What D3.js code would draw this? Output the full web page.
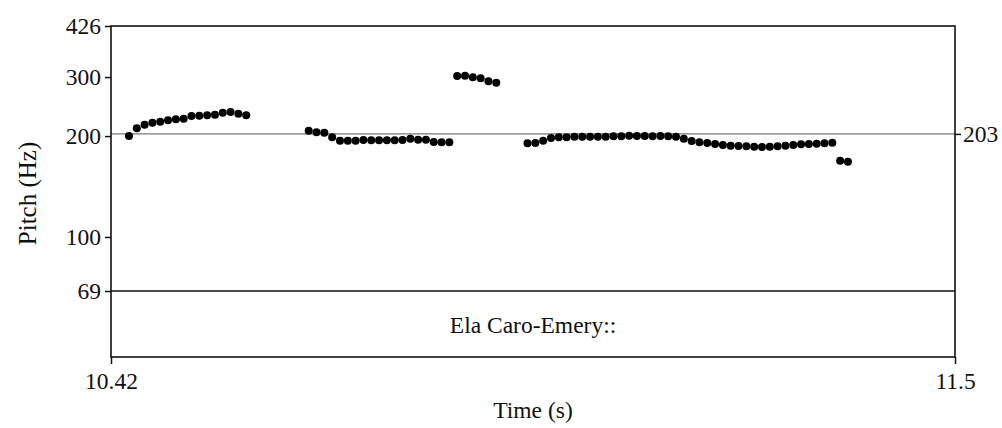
<!DOCTYPE html>
<html>
<head>
<meta charset="utf-8">
<script src="https://cdn.jsdelivr.net/npm/d3@7"></script>
<style>
  html, body { margin: 0; padding: 0; background: #fff; }
  svg { display: block; }
  text { font-family: "Liberation Serif", "Times New Roman", serif; fill: #111; }
</style>
</head>
<body>
<svg id="chart" width="1002" height="428"></svg>
<script>
// ---- data ----
const times = [
  10.443, 10.453, 10.463, 10.473, 10.483, 10.493, 10.503, 10.513, 10.523, 10.533, 10.543, 10.553, 10.563, 10.573, 10.583, 10.593,
  10.673, 10.683, 10.693, 10.703, 10.713, 10.723, 10.733, 10.743, 10.753, 10.763, 10.773, 10.783, 10.793, 10.803, 10.813, 10.823, 10.833, 10.843, 10.853,
  10.863, 10.873, 10.883, 10.893, 10.903, 10.913,
  10.953, 10.963, 10.973, 10.983, 10.993, 11.003, 11.013, 11.023, 11.033, 11.043,
  11.053, 11.063, 11.073, 11.083, 11.093, 11.103, 11.113, 11.123, 11.133, 11.143,
  11.153, 11.163, 11.173, 11.183, 11.193, 11.203, 11.213, 11.223, 11.233, 11.243,
  11.253, 11.263, 11.273, 11.283, 11.293, 11.303, 11.313, 11.323, 11.333, 11.343,
  11.353, 11.363
];
const pitchHz = [
  200.1, 211.0, 216.3, 219.3, 220.8, 222.9, 224.5, 225.4, 229.6, 230.0, 230.7, 231.6, 234.9, 236.0, 233.3, 230.7,
  207.5, 205.3, 204.7, 198.3, 193.8, 193.8, 193.8, 194.7, 194.3, 194.3, 194.3, 194.3, 194.7, 196.5, 195.1, 195.1, 192.0, 191.7, 191.7,
  302.2, 302.8, 299.5, 297.5, 291.4, 288.6,
  190.3, 190.7, 193.8, 197.4, 198.4, 198.4, 199.2, 199.2, 199.2, 199.2,
  199.2, 199.7, 199.7, 200.5, 200.1, 200.1, 199.7, 200.1, 199.7, 199.2,
  196.5, 193.4, 191.8, 190.7, 189.4, 188.0, 187.2, 186.8, 186.5, 185.9,
  185.6, 185.9, 186.5, 187.2, 188.1, 189.0, 189.4, 189.8, 190.3, 191.1,
  168.9, 167.8
];
const timeDomain = [10.42, 11.5];
const timeTickLabels = ["10.42", "11.5"];
const pitchDomain = [69, 426];
const pitchTicks = [426, 300, 200, 100, 69];
const markLine = 203;
const tierText = "Ela Caro-Emery::";
const xLabel = "Time (s)";
const yLabel = "Pitch (Hz)";

// ---- layout ----
const svg = d3.select("#chart");
const L = 111, R = 955, T = 26, B = 357, tierTop = 291;
const x = d3.scaleLinear().domain(timeDomain).range([L, R]);
const y = d3.scaleLog().domain(pitchDomain).range([tierTop, T]);
const fs = 23.5;

// horizontal line at 203 Hz (gray)
svg.append("line")
  .attr("x1", L).attr("x2", R).attr("y1", y(markLine)).attr("y2", y(markLine))
  .attr("stroke", "#777").attr("stroke-width", 1.2);

// tier boundary at 69 Hz
svg.append("line")
  .attr("x1", L).attr("x2", R).attr("y1", y(69)).attr("y2", y(69))
  .attr("stroke", "#111").attr("stroke-width", 1.5);

// frame
svg.append("rect")
  .attr("x", L).attr("y", T).attr("width", R - L).attr("height", B - T)
  .attr("fill", "none").attr("stroke", "#111").attr("stroke-width", 1.6);

// left axis
const yAxis = d3.axisLeft(y).tickValues(pitchTicks).tickFormat(d3.format("d"))
  .tickSize(6).tickPadding(4);
const gy = svg.append("g").attr("transform", `translate(${L},0)`).call(yAxis);
gy.select(".domain").remove();
gy.selectAll("line").attr("stroke", "#111").attr("stroke-width", 1.5);
gy.selectAll("text").style("font-size", fs + "px").style("font-family", "Liberation Serif").attr("fill", "#111");

// right marker 203
const rAxis = d3.axisRight(y).tickValues([markLine]).tickFormat(d3.format("d"))
  .tickSize(6).tickPadding(2);
const gr = svg.append("g").attr("transform", `translate(${R},0)`).call(rAxis);
gr.select(".domain").remove();
gr.selectAll("line").attr("stroke", "#111").attr("stroke-width", 1.5);
gr.selectAll("text").style("font-size", fs + "px").style("font-family", "Liberation Serif").attr("fill", "#111");

// bottom axis
const xAxis = d3.axisBottom(x).tickValues(timeDomain)
  .tickFormat((d, i) => timeTickLabels[i]).tickSize(7).tickPadding(8);
const gx = svg.append("g").attr("transform", `translate(0,${B})`).call(xAxis);
gx.select(".domain").remove();
gx.selectAll("line").attr("stroke", "#111").attr("stroke-width", 1.5);
gx.selectAll("text").style("font-size", fs + "px").style("font-family", "Liberation Serif").attr("fill", "#111");

// pitch points
svg.append("g").selectAll("circle")
  .data(times.map((t, i) => ({t, f: pitchHz[i]})))
  .join("circle")
  .attr("cx", d => x(d.t))
  .attr("cy", d => y(d.f))
  .attr("r", 4)
  .attr("fill", "#000");

// tier text
svg.append("text")
  .attr("x", (L + R) / 2).attr("y", 333)
  .attr("text-anchor", "middle").style("font-size", fs + "px")
  .text(tierText);

// axis labels
svg.append("text")
  .attr("x", (L + R) / 2).attr("y", 418)
  .attr("text-anchor", "middle").style("font-size", fs + "px")
  .text(xLabel);

svg.append("text")
  .attr("transform", `translate(36,${(T + B) / 2 + 2}) rotate(-90)`)
  .attr("text-anchor", "middle").style("font-size", "25px")
  .text(yLabel);
</script>
</body>
</html>
